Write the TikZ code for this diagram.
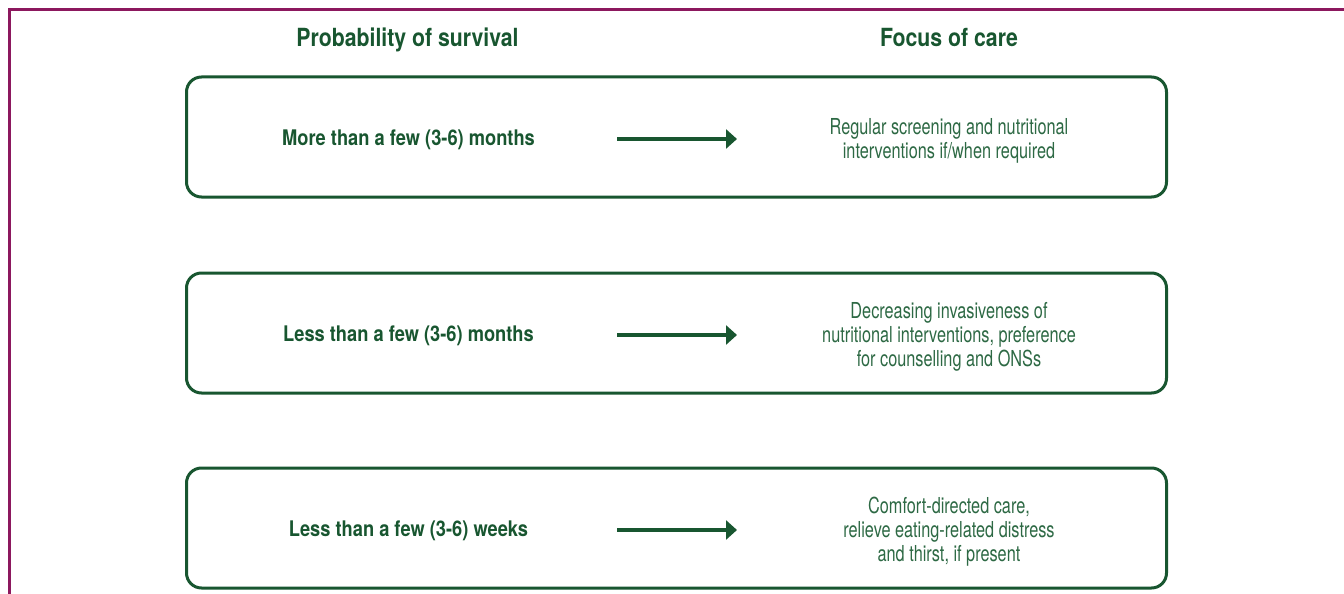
\documentclass[tikz,border=0pt]{standalone}
\usepackage{fontspec}
\setmainfont{TeX Gyre Heros}[FakeStretch=0.74, BoldFeatures={FakeStretch=0.85}]
\usetikzlibrary{arrows.meta}

\definecolor{framered}{RGB}{140,24,94}
\definecolor{caregreen}{RGB}{24,86,48}
\definecolor{caretext}{RGB}{45,105,68}

\tikzset{
	head/.style={text=caregreen, font=\bfseries\fontsize{25}{27}\selectfont},
	survtext/.style={text=caregreen, font=\bfseries\fontsize{21.5}{24}\selectfont},
	caretxt/.style={text=caretext, align=center, font=\fontsize{22}{24}\selectfont},
	rowbox/.style={draw=caregreen, line width=3pt, rounded corners=15pt,
		minimum width=980pt, minimum height=120pt, inner sep=0pt},
	flow/.style={draw=caregreen, line width=3.8pt, -{Triangle[length=11pt, width=19pt]}}
}

\begin{document}
\begin{tikzpicture}[x=1pt, y=-1pt]

\useasboundingbox (0,0) rectangle (1344,594);

% Frame
\draw[framered, line width=3pt] (1344,9.5) -- (9.5,9.5) -- (9.5,594);

% Headings
\node[head, anchor=base] (hsurv) at (407.5,47) {Probability of survival};
\node[head, anchor=base] (hcare) at (949,47) {Focus of care};

% The rows
\foreach \n/\y/\surv/\care in {
	1/137/{More than a few (3-6) months}/{Regular screening and nutritional\\interventions if/when required},
	2/333/{Less than a few (3-6) months}/{Decreasing invasiveness of\\nutritional interventions, preference\\for counselling and ONSs},
	3/528/{Less than a few (3-6) weeks}/{Comfort-directed care,\\relieve eating-related distress\\and thirst, if present}}{
	\node[rowbox] (box\n) at (676.5,\y) {};
	\node[survtext] (surv\n) at (408.5,\y+3) {\surv};
	\node[caretxt] (care\n) at (949,\y+4) {\care};
	
	% Arrow
	\coordinate (from\n) at (617,\y+2);
	\coordinate (to\n) at (737,\y+2);
	\draw[flow] (from\n) -- (to\n);
}

\end{tikzpicture}
\end{document}
